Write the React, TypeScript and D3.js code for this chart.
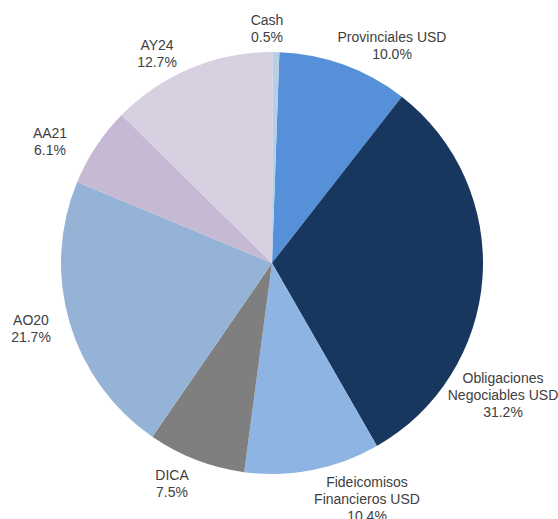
import React from "react";
import * as d3 from "d3";

const categories = [
  "Provinciales USD",
  "Obligaciones Negociables USD",
  "Fideicomisos Financieros USD",
  "DICA",
  "AO20",
  "AA21",
  "AY24",
  "Cash",
];
const values = [10.0, 31.2, 10.4, 7.5, 21.7, 6.1, 12.7, 0.5];
const colors = [
  "#5590D8",
  "#17375E",
  "#8DB4E2",
  "#7F7F7F",
  "#95B3D7",
  "#C5B9D3",
  "#D6D0E0",
  "#B9CDE6",
];
// label text lines (name split into lines) and layout (center of first line)
const labelLines = [
  ["Provinciales USD"],
  ["Obligaciones", "Negociables USD"],
  ["Fideicomisos", "Financieros USD"],
  ["DICA"],
  ["AO20"],
  ["AA21"],
  ["AY24"],
  ["Cash"],
];
const labelPos = [
  [392, 37],
  [503, 378],
  [367, 482],
  [172, 475],
  [31, 320],
  [50, 133],
  [157, 45],
  [267, 20],
];

const W = 558;
const H = 519;
const cx = 272;
const cy = 263;
const R = 211;
const startOffset = (2 * Math.PI) / 180;

export default function App() {
  const data = categories.map((c, i) => ({ name: c, value: values[i], i }));
  const pie = d3
    .pie<any>()
    .value((d) => d.value)
    .sort(null)
    .startAngle(startOffset)
    .endAngle(startOffset + 2 * Math.PI);
  const arcs = pie(data);
  const arc = d3.arc<any>().innerRadius(0).outerRadius(R);
  const lineH = 17;

  return (
    <svg
      width={W}
      height={H}
      style={{ position: "absolute", left: 0, top: 0, display: "block" }}
      fontFamily="'Liberation Sans', Arial, sans-serif"
    >
      <rect width={W} height={H} fill="#ffffff" />
      <g transform={`translate(${cx},${cy})`}>
        {arcs.map((a, i) => (
          <path key={i} d={arc(a) as string} fill={colors[i]} />
        ))}
      </g>
      {arcs.map((a, i) => {
        const [x, y] = labelPos[i];
        const lines = [...labelLines[i], `${values[i].toFixed(1)}%`];
        return (
          <text key={i} x={x} y={y} textAnchor="middle" fontSize={14} fill="#404040">
            {lines.map((l, j) => (
              <tspan key={j} x={x} y={y + j * lineH} dy="0.35em">
                {l}
              </tspan>
            ))}
          </text>
        );
      })}
    </svg>
  );
}
